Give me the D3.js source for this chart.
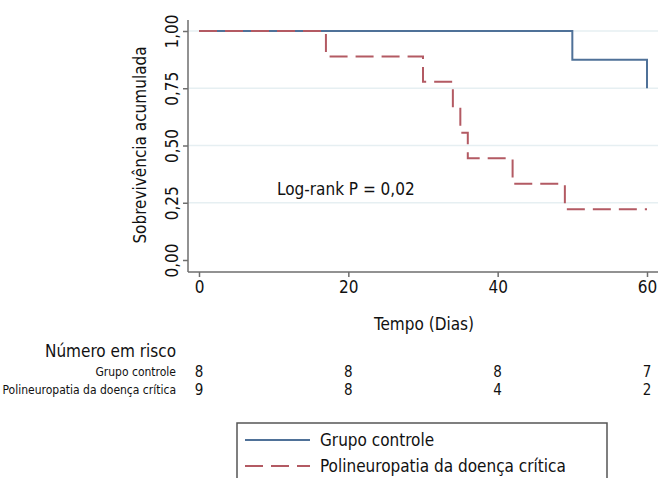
<!DOCTYPE html>
<html>
<head>
<meta charset="utf-8">
<script src="https://cdn.jsdelivr.net/npm/d3@7"></script>
<style>
  body { margin: 0; background: #fff; }
  text { font-family: "Liberation Sans Narrow", "DejaVu Sans Condensed", sans-serif; fill: #111; }
</style>
</head>
<body>
<div class="chart"></div>
<script>
var svgWidth = 659;
var svgHeight = 478;

// Kaplan-Meier steps
var controlTimes = [0, 50, 60];
var controlSurv = [1, 0.875, 0.75];
var pdcTimes = [0, 17, 30, 34, 35, 36, 42, 49, 60];
var pdcSurv = [1, 0.889, 0.778, 0.667, 0.556, 0.444, 0.333, 0.222, 0.222];

var xTicks = [0, 20, 40, 60];
var yTicks = [0, 0.25, 0.5, 0.75, 1];
var riskLabels = ["Grupo controle", "Polineuropatia da doença crítica"];
var riskControl = [8, 8, 8, 7];
var riskPdc = [9, 8, 4, 2];
var legendLabels = ["Grupo controle", "Polineuropatia da doença crítica"];

var blue = "#4f7198";
var red = "#b35a63";

var svg = d3.select(".chart")
  .append("svg")
  .attr("width", svgWidth)
  .attr("height", svgHeight);

var x = d3.scaleLinear().domain([0, 60]).range([199, 647]);
var y = d3.scaleLinear().domain([0, 1]).range([260, 31]);

// gridlines
svg.append("g").selectAll("line")
  .data(yTicks.filter(d => d > 0))
  .enter().append("line")
  .attr("x1", 189).attr("x2", 658)
  .attr("y1", d => y(d)).attr("y2", d => y(d))
  .attr("stroke", "#e6eff2").attr("stroke-width", 1.5);

// axes
var leftAxis = d3.axisLeft(y).tickValues(yTicks)
  .tickFormat(d => d3.format(".2f")(d).replace(".", ",")).tickSize(5).tickSizeOuter(0);
var bottomAxis = d3.axisBottom(x).tickValues(xTicks).tickSize(5).tickSizeOuter(0);

var gy = svg.append("g").attr("transform", "translate(188,0)").call(leftAxis);
gy.select(".domain").attr("d", "M0,20V272");
gy.selectAll(".tick text")
  .attr("transform", "rotate(-90,-16,0)")
  .attr("x", -16).attr("dy", "0.35em")
  .attr("text-anchor", "middle")
  .style("font-size", "17px");

var gx = svg.append("g").attr("transform", "translate(0,272)").call(bottomAxis);
gx.select(".domain").attr("d", "M188,0H658");
gx.selectAll(".tick text").attr("y", 9).style("font-size", "17px");

svg.selectAll(".domain, .tick line").attr("stroke", "#6e6e6e").attr("stroke-width", 1.5);

// curves
var line = d3.line().x(d => x(d[0])).y(d => y(d[1])).curve(d3.curveStepAfter);

function stepData(times, surv) {
  return times.map((t, i) => [t, surv[i]]);
}

svg.append("path")
  .attr("d", line(stepData(controlTimes, controlSurv)))
  .attr("fill", "none").attr("stroke", blue).attr("stroke-width", 2);

svg.append("path")
  .attr("d", line(stepData(pdcTimes, pdcSurv)))
  .attr("fill", "none").attr("stroke", red).attr("stroke-width", 2)
  .attr("stroke-dasharray", "18,8");

// annotation
svg.append("text")
  .attr("x", 277).attr("y", 195)
  .style("font-size", "17px")
  .text("Log-rank P = 0,02");

// axis titles
svg.append("text")
  .attr("transform", "translate(146,145) rotate(-90)")
  .attr("text-anchor", "middle")
  .style("font-size", "17px")
  .text("Sobrevivência acumulada");

svg.append("text")
  .attr("x", 424).attr("y", 330)
  .attr("text-anchor", "middle")
  .style("font-size", "17px")
  .text("Tempo (Dias)");

// risk table
svg.append("text")
  .attr("x", 176).attr("y", 357)
  .attr("text-anchor", "end")
  .style("font-size", "17px")
  .text("Número em risco");

var riskRows = [riskControl, riskPdc];
riskRows.forEach(function(row, i) {
  var ry = 377 + i * 18;
  svg.append("text")
    .attr("x", 176).attr("y", ry - 1)
    .attr("text-anchor", "end")
    .style("font-size", "12px")
    .text(riskLabels[i]);
  svg.append("g").selectAll("text")
    .data(row)
    .enter().append("text")
    .attr("x", (d, j) => x(xTicks[j]))
    .attr("y", ry)
    .attr("text-anchor", "middle")
    .style("font-size", "15px")
    .text(d => d);
});

// legend
svg.append("rect")
  .attr("x", 237).attr("y", 423)
  .attr("width", 370).attr("height", 70)
  .attr("fill", "none").attr("stroke", "#555").attr("stroke-width", 1.5);

var legendColors = [blue, red];
var legendDash = ["none", "18,8"];
legendLabels.forEach(function(lab, i) {
  var ly = 440 + i * 26;
  svg.append("line")
    .attr("x1", 245).attr("x2", 310)
    .attr("y1", ly).attr("y2", ly)
    .attr("stroke", legendColors[i]).attr("stroke-width", 2)
    .attr("stroke-dasharray", legendDash[i]);
  svg.append("text")
    .attr("x", 320).attr("y", ly + 6)
    .style("font-size", "17px")
    .text(lab);
});
</script>
</body>
</html>
